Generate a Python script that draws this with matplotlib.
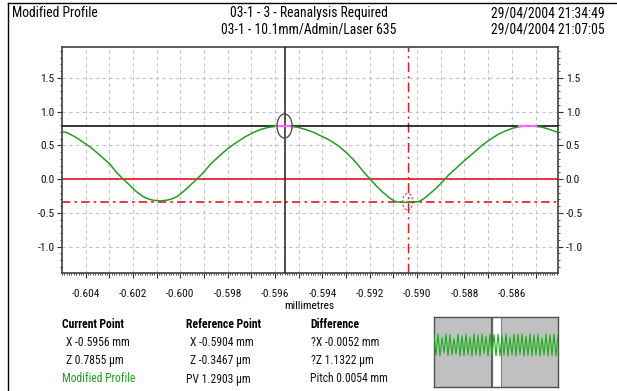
import matplotlib
matplotlib.use('Agg')
import matplotlib.pyplot as plt
from matplotlib import font_manager as fm
from matplotlib.patches import Ellipse, Rectangle
from matplotlib.lines import Line2D
from matplotlib.ticker import FixedLocator, MultipleLocator, FixedFormatter

# pick a narrow sans family if one is installed
_names = {f.name for f in fm.fontManager.ttflist}
_narrow = [n for n in ['Liberation Sans Narrow', 'Arial Narrow', 'Roboto Condensed',
                       'Open Sans Condensed', 'Noto Sans Condensed'] if n in _names]
FONT = _narrow[:1] + ['Liberation Sans', 'DejaVu Sans']
plt.rcParams['font.family'] = FONT

# ---------------- data ----------------
profile_x = [-0.60500, -0.60481, -0.60445, -0.60408, -0.60372, -0.60336, -0.60299,
             -0.60268, -0.60242, -0.60216, -0.60190, -0.60159, -0.60138, -0.60117,
             -0.60086, -0.60055, -0.60034, -0.60013, -0.59982, -0.59956, -0.59930,
             -0.59904, -0.59873, -0.59836, -0.59800, -0.59764, -0.59727, -0.59691,
             -0.59660, -0.59627, -0.59597, -0.59566, -0.59535, -0.59503, -0.59472,
             -0.59440, -0.59404, -0.59367, -0.59330, -0.59294, -0.59257, -0.59225,
             -0.59199, -0.59173, -0.59147, -0.59115, -0.59094, -0.59073, -0.59042,
             -0.59012, -0.58991, -0.58971, -0.58940, -0.58915, -0.58890, -0.58864,
             -0.58834, -0.58798, -0.58763, -0.58727, -0.58692, -0.58656, -0.58625,
             -0.58595, -0.58564, -0.58534, -0.58503, -0.58472, -0.58441, -0.58405]
profile_z = [0.700, 0.690, 0.625, 0.540, 0.450, 0.340, 0.225,
             0.090, 0.000, -0.085, -0.175, -0.258, -0.292, -0.313,
             -0.325, -0.313, -0.292, -0.258, -0.170, -0.085, 0.000,
             0.090, 0.220, 0.340, 0.450, 0.540, 0.625, 0.690,
             0.735, 0.765, 0.781, 0.786, 0.781, 0.765, 0.735,
             0.695, 0.635, 0.570, 0.485, 0.375, 0.240, 0.100,
             0.000, -0.100, -0.190, -0.285, -0.332, -0.343, -0.346,
             -0.343, -0.332, -0.290, -0.200, -0.120, -0.030, 0.070,
             0.165, 0.280, 0.385, 0.495, 0.585, 0.665, 0.715,
             0.755, 0.778, 0.786, 0.781, 0.768, 0.735, 0.690]

highlight_ranges = [(-0.59600, -0.59532), (-0.58572, -0.58495)]

current_x, current_z = -0.5956, 0.7855
reference_x, reference_z = -0.5904, -0.3467

xtick_values = [-0.604, -0.603, -0.602, -0.601, -0.600, -0.599, -0.598, -0.597, -0.596,
                -0.595, -0.594, -0.593, -0.592, -0.591, -0.590, -0.589, -0.588, -0.587,
                -0.586, -0.585]
xtick_labels = ['-0.604', '', '-0.602', '', '-0.600', '', '-0.598', '', '-0.596', '',
                '-0.594', '', '-0.592', '', '-0.590', '', '-0.588', '', '-0.586', '']
ytick_values = [-1.0, -0.5, 0.0, 0.5, 1.0, 1.5]
ytick_labels = ['-1.0', '-0.5', '0.0', '0.5', '1.0', '1.5']

thumb_z = [0.70, -0.30, 0.78, -0.34, 0.60, -0.20, 0.78, -0.34, 0.75, -0.30, 0.55, -0.25,
           0.78, -0.34, 0.70, -0.32, 0.78, -0.28, 0.62, -0.34, 0.78, -0.30, 0.72, -0.34,
           0.78, -0.22, 0.66, -0.34, 0.78, -0.30, 0.74, -0.34, 0.78, -0.34, 0.70, -0.28,
           0.78, -0.34, 0.60, -0.30, 0.78, -0.34, 0.76, -0.26, 0.78, -0.34, 0.66, -0.32,
           0.78, -0.34, 0.72, -0.30, 0.78, -0.34, 0.58, -0.28, 0.78, -0.34, 0.74, -0.32,
           0.78, -0.34, 0.70]

header_left = 'Modified Profile'
header_mid = ['03-1 - 3 - Reanalysis Required', '03-1 - 10.1mm/Admin/Laser 635']
header_right = ['29/04/2004 21:34:49', '29/04/2004 21:07:05']

col_current = ['Current Point', 'X -0.5956 mm', 'Z 0.7855 µm', 'Modified Profile']
col_reference = ['Reference Point', 'X -0.5904 mm', 'Z -0.3467 µm', 'PV 1.2903 µm']
col_difference = ['Difference', '?X -0.0052 mm', '?Z 1.1322 µm', 'Pitch 0.0054 mm']

# ---------------- figure ----------------
W, H = 617, 391
fig = plt.figure(figsize=(W / 100, H / 100), dpi=100)
fig.patch.set_facecolor('white')
renderer = fig.canvas.get_renderer()


def fx(x):
    return x / W


def fy(y):
    return 1 - y / H


def fit_size(text, target_px, weight='normal'):
    t = fig.text(0, 0, text, fontsize=10, fontweight=weight)
    w = t.get_window_extent(renderer).width
    t.remove()
    return 10 * target_px / w


HEAD_FS = min(11.0, fit_size('Modified Profile', 86))
INFO_FS = min(9.5, fit_size('Modified Profile', 73))
TICK_FS = min(9.0, fit_size('-0.604', 28))

ax = fig.add_axes([fx(62), fy(273.3), fx(558) - fx(62), fy(47.4) - fy(273.3)])
ax.set_xlim(-0.605, -0.58405)
ax.set_ylim(-1.397, 1.95)

GREEN = '#1ea01e'
RED = '#e8141e'

# grid
for xv in xtick_values:
    ax.axvline(xv, color='#c4c4c4', lw=0.8, dashes=(3, 3), zorder=1)
for yv in ytick_values:
    ax.axhline(yv, color='#c4c4c4', lw=0.8, dashes=(3, 3), zorder=1)

# reference lines
ax.axhline(0.0, color=RED, lw=1.2, zorder=2)
ax.axhline(reference_z, color=RED, lw=1.2, dashes=(5, 2.5, 1.5, 2.5), zorder=2)
ax.axvline(reference_x, color=RED, lw=1.0, dashes=(7, 3, 1.5, 3), zorder=2)
ax.axhline(current_z, color='black', lw=1.1, zorder=3)
ax.axvline(current_x, color='#202020', lw=1.1, zorder=3)

# profile
ax.plot(profile_x, profile_z, color=GREEN, lw=1.1, zorder=4, solid_joinstyle='round')
for a, b in highlight_ranges:
    ax.plot([a, b], [current_z, current_z], color='#ff66ff', lw=1.6, zorder=5,
            solid_capstyle='butt')

# markers
ax.add_patch(Ellipse((current_x, current_z), 0.00064, 0.356, fill=False,
                     ec='#505050', lw=1.0, zorder=6))
ax.add_patch(Ellipse((reference_x, reference_z + 0.01), 0.00042, 0.25, fill=False,
                     ec=RED, lw=0.9, ls=(0, (2, 1.5)), alpha=0.75, zorder=6))

# ticks
ax.xaxis.set_major_locator(FixedLocator(xtick_values))
ax.xaxis.set_major_formatter(FixedFormatter(xtick_labels))
ax.xaxis.set_minor_locator(MultipleLocator(0.0001))
ax.yaxis.set_major_locator(FixedLocator(ytick_values))
ax.yaxis.set_major_formatter(FixedFormatter(ytick_labels))
ax.yaxis.set_minor_locator(MultipleLocator(0.1))
ax.tick_params(axis='both', which='major', direction='out', length=3.5, width=0.8,
               color='#303030', labelsize=TICK_FS, labelcolor='#111111')
ax.tick_params(axis='both', which='minor', direction='out', length=1.6, width=0.6,
               color='#303030')
ax.tick_params(axis='x', which='major', pad=7.5)
ax.tick_params(axis='y', which='both', left=True, right=True, labelleft=True,
               labelright=True)
ax.tick_params(axis='y', which='major', pad=2)
for s in ax.spines.values():
    s.set_color('#404040')
    s.set_linewidth(1.2)

# frame lines
fig.add_artist(Line2D([fx(8), 1.0], [fy(2.5), fy(2.5)], color='black', lw=1.0))
fig.add_artist(Line2D([fx(8), fx(8)], [fy(2.5), 0.0], color='black', lw=1.0))

# header text
fig.text(fx(12), fy(13), header_left, ha='left', va='center', fontsize=HEAD_FS)
fig.text(fx(308.5), fy(13), header_mid[0], ha='center', va='center', fontsize=HEAD_FS)
fig.text(fx(308.5), fy(30), header_mid[1], ha='center', va='center', fontsize=HEAD_FS)
fig.text(fx(605), fy(13), header_right[0], ha='right', va='center', fontsize=HEAD_FS)
fig.text(fx(605), fy(30), header_right[1], ha='right', va='center', fontsize=HEAD_FS)

# x label
fig.text(fx(309), fy(306), 'millimetres', ha='center', va='center', fontsize=TICK_FS)

# info columns
rows_y = [324.5, 342.5, 360.5, 379]
cols = [(62, 66, col_current), (186, 190, col_reference), (310, 311, col_difference)]
for xh, xr, col in cols:
    for i, t in enumerate(col):
        kw = dict(ha='left', va='center', fontsize=INFO_FS)
        if i == 0:
            fig.text(fx(xh), fy(rows_y[i]), t, fontweight='bold', **kw)
        else:
            color = GREEN if (col is col_current and i == 3) else '#111111'
            xx = xh if (i == 3) else xr
            fig.text(fx(xx), fy(rows_y[i]), t, color=color, **kw)

# thumbnail
axt = fig.add_axes([fx(434), fy(387.3), (558 - 434) / W, (387.3 - 316.7) / H])
axt.set_facecolor('#c0c0c0')
axt.plot(range(len(thumb_z)), thumb_z, color='#18b018', lw=0.8, zorder=3)
axt.set_xlim(0, len(thumb_z) - 1)
axt.set_ylim(-1.94, 1.66)
axt.add_patch(Rectangle((0.468, 0), 0.072, 1, transform=axt.transAxes,
                        facecolor='white', edgecolor='none', zorder=2))
axt.add_artist(Line2D([0.468, 0.468], [0, 1], transform=axt.transAxes,
                      color='#606060', lw=1.6, zorder=2))
axt.add_artist(Line2D([0.540, 0.540], [0, 1], transform=axt.transAxes,
                      color='#808080', lw=0.8, zorder=2))
axt.set_xticks([])
axt.set_yticks([])
for s in axt.spines.values():
    s.set_color('#505050')
    s.set_linewidth(1.0)

fig.savefig('out.png', dpi=100, facecolor='white')
